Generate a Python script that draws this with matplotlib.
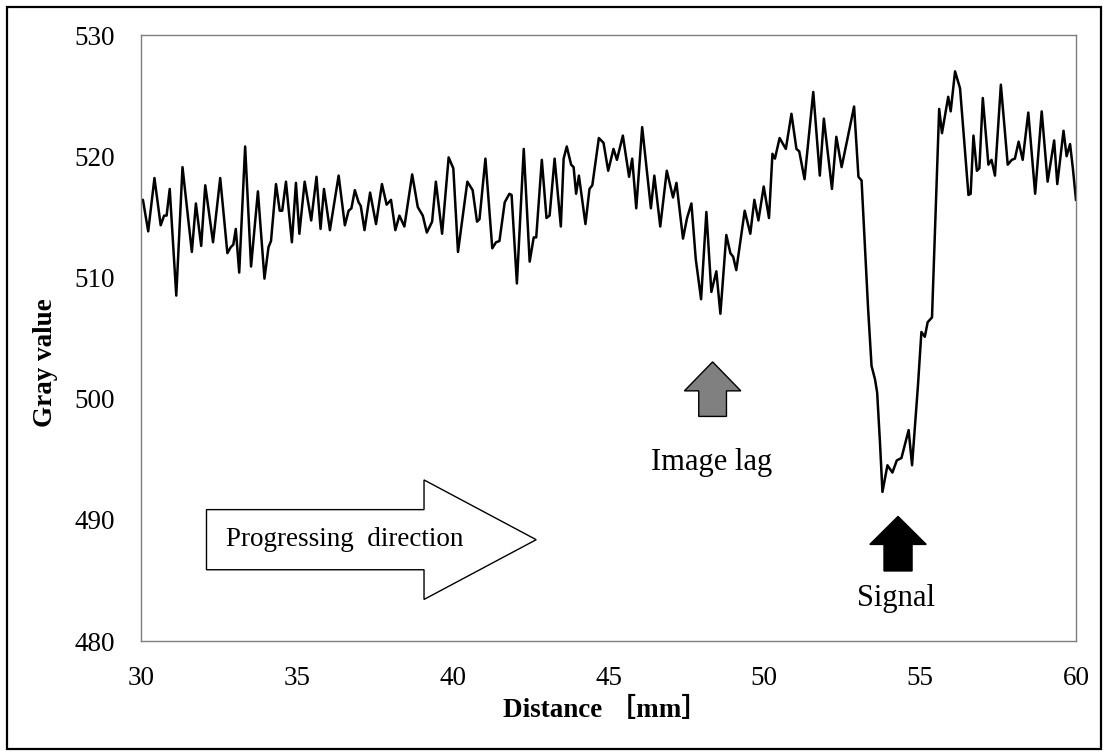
"""
	Gray value profile along the scan direction, with image lag and signal marked.
"""
import matplotlib
matplotlib.use('Agg')
import matplotlib.pyplot as plt
from matplotlib.patches import FancyArrow, Rectangle

plt.rcParams['font.family'] = ['Liberation Serif', 'Noto Sans CJK JP']

# profile (peaks, troughs and shoulders)
distance = [
	30.00, 30.06, 30.23, 30.43, 30.63, 30.74, 30.82, 30.92, 31.13, 31.33,
	31.63, 31.76, 31.93, 32.06, 32.31, 32.54, 32.77, 32.88, 32.96, 33.04,
	33.15, 33.34, 33.53, 33.75, 33.96, 34.09, 34.17, 34.33, 34.45, 34.53,
	34.65, 34.84, 34.97, 35.08, 35.25, 35.46, 35.63, 35.76, 35.87, 36.06,
	36.34, 36.54, 36.66, 36.75, 36.86, 36.98, 37.05, 37.17, 37.35, 37.54,
	37.73, 37.88, 38.02, 38.16, 38.29, 38.45, 38.70, 38.88, 39.04, 39.17,
	39.34, 39.46, 39.66, 39.87, 40.02, 40.17, 40.47, 40.64, 40.78, 40.86,
	41.05, 41.27, 41.39, 41.50, 41.67, 41.82, 41.89, 42.06, 42.28, 42.47,
	42.60, 42.68, 42.86, 43.01, 43.11, 43.27, 43.47, 43.56, 43.66, 43.80,
	43.88, 43.96, 44.05, 44.26, 44.39, 44.48, 44.69, 44.84, 44.99, 45.16,
	45.27, 45.46, 45.66, 45.76, 45.89, 46.08, 46.36, 46.47, 46.66, 46.87,
	47.07, 47.18, 47.39, 47.52, 47.66, 47.80, 47.97, 48.14, 48.30, 48.46,
	48.59, 48.78, 48.91, 49.00, 49.10, 49.37, 49.55, 49.68, 49.81, 49.98,
	50.15, 50.26, 50.34, 50.49, 50.69, 50.87, 51.03, 51.12, 51.29, 51.57,
	51.78, 51.91, 52.17, 52.31, 52.48, 52.88, 53.02, 53.12, 53.22, 53.33,
	53.44, 53.55, 53.62, 53.71, 53.79, 53.95, 54.11, 54.25, 54.40, 54.52,
	54.63, 54.74, 54.93, 55.04, 55.15, 55.24, 55.38, 55.61, 55.70, 55.90,
	55.98, 56.12, 56.28, 56.55, 56.62, 56.71, 56.82, 56.90, 57.01, 57.19,
	57.29, 57.40, 57.59, 57.81, 57.94, 58.04, 58.16, 58.29, 58.47, 58.69,
	58.90, 59.09, 59.30, 59.40, 59.60, 59.70, 59.81, 59.90, 60.00,
]
gray = [
	516.3, 516.4, 513.8, 518.2, 514.3, 515.1, 515.1, 517.3, 508.5, 519.1,
	512.1, 516.1, 512.6, 517.6, 512.9, 518.2, 512.0, 512.5, 512.7, 514.0,
	510.4, 520.8, 510.9, 517.1, 509.9, 512.5, 513.0, 517.7, 515.5, 515.5,
	517.9, 512.9, 517.8, 513.6, 517.9, 514.7, 518.3, 514.0, 517.3, 513.9,
	518.4, 514.3, 515.5, 515.7, 517.2, 516.2, 515.9, 513.9, 517.0, 514.4,
	517.7, 516.0, 516.4, 513.9, 515.1, 514.2, 518.5, 515.8, 515.1, 513.7,
	514.6, 517.9, 513.6, 519.9, 519.0, 512.1, 517.9, 517.2, 514.6, 514.8,
	519.8, 512.4, 512.9, 513.0, 516.2, 516.9, 516.8, 509.5, 520.6, 511.3,
	513.3, 513.3, 519.7, 514.9, 515.1, 519.8, 514.2, 519.8, 520.8, 519.3,
	519.1, 516.9, 518.4, 514.4, 517.3, 517.6, 521.5, 521.1, 518.8, 520.6,
	519.7, 521.7, 518.3, 519.8, 515.7, 522.4, 515.7, 518.4, 514.2, 518.8,
	516.6, 517.8, 513.2, 514.9, 516.1, 511.5, 508.2, 515.4, 508.8, 510.5,
	507.0, 513.5, 512.0, 511.7, 510.6, 515.5, 513.6, 516.4, 514.7, 517.5,
	514.9, 520.2, 519.8, 521.5, 520.6, 523.5, 520.6, 520.4, 518.1, 525.3,
	518.4, 523.1, 517.3, 521.6, 519.1, 524.1, 518.3, 518.0, 512.9, 507.4,
	502.7, 501.6, 500.5, 496.4, 492.3, 494.5, 493.9, 494.9, 495.1, 496.3,
	497.4, 494.5, 501.1, 505.5, 505.1, 506.3, 506.7, 523.9, 521.9, 524.9,
	523.7, 527.0, 525.6, 516.8, 516.9, 521.7, 518.8, 519.0, 524.8, 519.3,
	519.7, 518.4, 525.9, 519.3, 519.7, 519.8, 521.2, 519.7, 523.6, 516.9,
	523.7, 517.9, 521.3, 517.7, 522.1, 520.0, 521.0, 519.0, 516.4,
]

xticks = [30, 35, 40, 45, 50, 55, 60]
yticks = [480, 490, 500, 510, 520, 530]

# annotation arrows: (x, y start, length, width, head width, head length)
lag_arrow = (48.34, 498.53, 4.5, 0.89, 1.81, 2.39)
signal_arrow = (54.29, 485.78, 4.5, 0.90, 1.81, 2.31)
# progressing direction: (x start, y, length, width, head width, head length)
progress_arrow = (32.10, 488.36, 10.58, 4.96, 9.86, 3.6)

fig = plt.figure(figsize=(11.08, 7.56), dpi=100, facecolor='white')
ax = fig.add_axes([0.1273, 0.1521, 0.8438, 0.8016])

ax.plot(distance, gray, color='black', lw=1.8, solid_joinstyle='round')

ax.set_xlim(30, 60)
ax.set_ylim(480, 530)
ax.set_xticks(xticks)
ax.set_yticks(yticks)
ax.tick_params(axis='both', length=0, labelsize=19.5)
ax.tick_params(axis='x', pad=18)
ax.tick_params(axis='y', pad=19)
for s in ax.spines.values():
	s.set_color('#7f7f7f')
	s.set_linewidth(1.0)

ax.set_xlabel('Distance ［mm］', fontsize=19.5, fontweight='bold')
ax.xaxis.set_label_coords(0.497, -0.115)
ax.xaxis.label.set_va('center')
ax.set_ylabel('Gray value', fontsize=19.5, fontweight='bold')
ax.yaxis.set_label_coords(-0.102, 0.46)
ax.yaxis.label.set_va('center')

# block arrows
x, y0, l, w, hw, hl = progress_arrow
ax.add_patch(FancyArrow(x, y0, l, 0, width=w, head_width=hw, head_length=hl,
	length_includes_head=True, facecolor='white', edgecolor='black', lw=1.0))
ax.text(36.53, y0, 'Progressing  direction', fontsize=19.5, ha='center', va='center')

x, y0, l, w, hw, hl = lag_arrow
ax.add_patch(FancyArrow(x, y0, 0, l, width=w, head_width=hw, head_length=hl,
	length_includes_head=True, facecolor='#808080', edgecolor='black', lw=1.0))
ax.text(48.3, 494.7, 'Image lag', fontsize=22, ha='center', va='center')

x, y0, l, w, hw, hl = signal_arrow
ax.add_patch(FancyArrow(x, y0, 0, l, width=w, head_width=hw, head_length=hl,
	length_includes_head=True, facecolor='black', edgecolor='black', lw=1.0))
ax.text(54.24, 483.5, 'Signal', fontsize=22, ha='center', va='center')

# outer frame round the whole figure
fig.patches.append(Rectangle((7/1108., 7/756.), 1094/1108., 742/756., transform=fig.transFigure,
	fill=False, edgecolor='black', lw=1.6))

fig.savefig('out.png', dpi=100)
